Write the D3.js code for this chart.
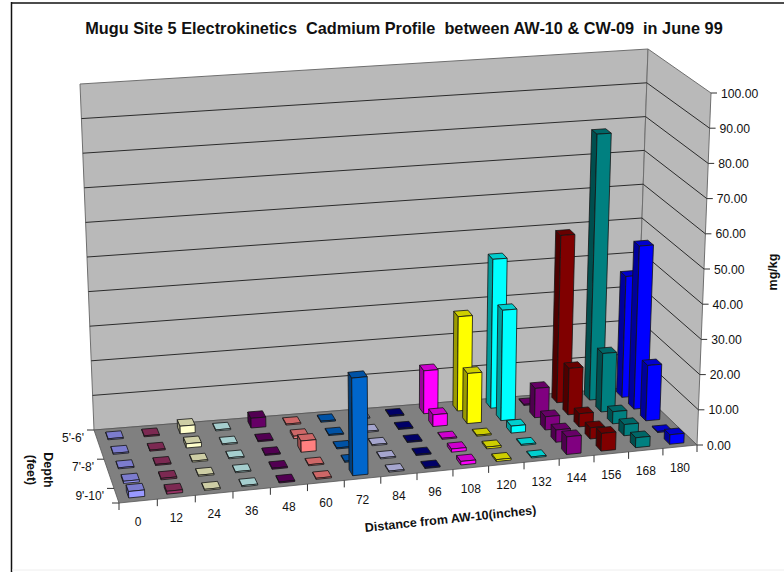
<!DOCTYPE html>
<html>
<head>
<meta charset="utf-8">
<style>
  html, body { margin: 0; padding: 0; background: #fff; overflow: hidden; }
  svg { display: block; }
  text { font-family: "Liberation Sans", Arial, sans-serif; fill: #111; white-space: pre; }
</style>
<script src="https://cdn.jsdelivr.net/npm/d3@7"></script>
</head>
<body>
<svg id="chart" width="784" height="573"></svg>
<script>
// Cadmium concentration (mg/kg) by distance from AW-10 and depth interval.
const distances = ["0","12","24","36","48","60","72","84","96","108","120","132","144","156","168","180"];
const depths = ["5'-6'","6'-7'","7'-8'","8'-9'","9'-10'"];
const depthLabels = ["5'-6'","7'-8'","9'-10'"];
const valueTicks = [0,10,20,30,40,50,60,70,80,90,100];

const depth5to6  = [0.3,0.3,2.2,0.3,2.8,0.3,0.3,0.3,0.3,12.5,27.5,43.5,0.3,49,78,35.5];
const depth6to7  = [0.3,0.3,1.2,0.3,0.3,0.7,0.3,0.3,0.3,3.4,14.5,32,8.5,13.5,17,47.5];
const depth7to8  = [0.3,0.3,0.3,0.3,0.3,3.2,0.3,0.3,0.3,0.3,0.3,2,3.8,3.8,3.5,16];
const depth8to9  = [0.6,0.4,0.3,0.3,0.3,0.3,0.3,0.3,0.3,0.9,0.5,0.3,3.5,3.2,3.2,0.3];
const depth9to10 = [1.8,0.8,0.3,0.3,0.3,0.3,27.5,0.3,0.3,1,0.5,0.3,5,5,2.8,2.7];
const seriesByDepth = [depth5to6, depth6to7, depth7to8, depth8to9, depth9to10];

const columnColors = ["#9999ff","#993366","#ffffcc","#ccffff","#660066","#ff8080","#0066cc","#ccccff",
                      "#000080","#ff00ff","#ffff00","#00ffff","#800080","#800000","#008080","#0000ff"];

// Box corners on the page: floor and ceiling, each listed back-left, back-right, front-right, front-left.
const floorQuad = [[94,430],[636,387],[697,445],[119,503]];
const topQuad   = [[80,84],[648,49],[711,93],[103,145]];

// Distances foreshorten slightly towards the right of the box.
const foreshorten = 0.0644;
const warp = u => u*(1+foreshorten)/(1+foreshorten*u);

function quadMap(q) {
  const lerp = (a,b,t) => [a[0]+(b[0]-a[0])*t, a[1]+(b[1]-a[1])*t];
  return (u,v) => {
    const w = warp(u);
    return lerp(lerp(q[0],q[1],w), lerp(q[3],q[2],w), v);
  };
}
const floorMap = quadMap(floorQuad), topMap = quadMap(topQuad);

const x = d3.scaleBand().domain(distances).range([0,1]).paddingInner(0.58).paddingOuter(0.29);
const depth = d3.scaleBand().domain(depths).range([0,1]).paddingInner(0.54).paddingOuter(0.27);
const value = d3.scaleLinear().domain([0,100]).range([0,1]);

// u runs along distance, v from the back wall to the front, z up the value axis.
function project(u,v,z) {
  const a = floorMap(u,v), b = topMap(u,v);
  return [a[0]+(b[0]-a[0])*z, a[1]+(b[1]-a[1])*z];
}
const line = d3.line();
const svg = d3.select("#chart");

// Frame: heavy top and left rules, a faint rule along the bottom
svg.append("line").attr("x1",11).attr("y1",3).attr("x2",784).attr("y2",3).attr("stroke","#111").attr("stroke-width",1.5);
svg.append("line").attr("x1",11.5).attr("y1",2).attr("x2",11.5).attr("y2",572).attr("stroke","#111").attr("stroke-width",1.5);
svg.append("line").attr("x1",12).attr("y1",570).attr("x2",784).attr("y2",570).attr("stroke","#eeeeee").attr("stroke-width",1);

// Walls and floor
const wallFill = "#b9b9b9", edge = "#6f6f6f";
const backWall = [project(0,0,0),project(1,0,0),project(1,0,1),project(0,0,1)];
const sideWall = [project(1,0,0),project(1,1,0),project(1,1,1),project(1,0,1)];
const floorFace = [project(0,0,0),project(1,0,0),project(1,1,0),project(0,1,0)];
svg.selectAll("path.wall").data([backWall,sideWall]).join("path").attr("class","wall")
  .attr("d",d => line(d)+"Z").attr("fill",wallFill).attr("stroke",edge).attr("stroke-width",1);
svg.append("path").attr("d",line(floorFace)+"Z").attr("fill","#808080").attr("stroke","#555").attr("stroke-width",0.8);

// Gridlines run across the back wall and then down the side wall
svg.selectAll("path.grid").data(valueTicks.slice(1,-1)).join("path").attr("class","grid")
  .attr("d",t => line([project(0,0,value(t)),project(1,0,value(t)),project(1,1,value(t))]))
  .attr("fill","none").attr("stroke","#2b2b2b").attr("stroke-width",1);

// Columns, painted from the back row forward
const bars = [];
depths.forEach((dName,r) => distances.forEach((c,i) => {
  bars.push({r,i,c,dName,v:seriesByDepth[r][i],color:columnColors[i]});
}));
const barGroup = svg.append("g").selectAll("g").data(bars).join("g");
barGroup.each(function(d) {
  const u0 = x(d.c), u1 = u0+x.bandwidth();
  const v0 = depth(d.dName), v1 = v0+depth.bandwidth();
  const z = value(d.v);
  const c = d3.rgb(d.color);
  const g = d3.select(this);
  const faces = [
    {pts:[project(u0,v0,0),project(u0,v1,0),project(u0,v1,z),project(u0,v0,z)], fill:c.darker(1.4)},
    {pts:[project(u0,v0,z),project(u1,v0,z),project(u1,v1,z),project(u0,v1,z)], fill:c.darker(0.6)},
    {pts:[project(u0,v1,0),project(u1,v1,0),project(u1,v1,z),project(u0,v1,z)], fill:c}
  ];
  g.selectAll("path").data(faces).join("path")
    .attr("d",f => line(f.pts)+"Z").attr("fill",f => f.fill)
    .attr("stroke","#141414").attr("stroke-width",0.8).attr("stroke-linejoin","round");
});

const axisStroke = "#333";

// Distance axis: tick marks on the front edge with a label under each column
const xTickPositions = d3.range(distances.length+1).map(i => i*x.step());
svg.selectAll("line.xtick").data(xTickPositions).join("line").attr("class","xtick")
  .each(function(u) {
    const p = project(u,1,0);
    d3.select(this).attr("x1",p[0]).attr("y1",p[1]).attr("x2",p[0]).attr("y2",p[1]+7);
  }).attr("stroke",axisStroke);
svg.selectAll("text.xlabel").data(distances).join("text").attr("class","xlabel")
  .each(function(c) {
    const p = project(x(c)+x.bandwidth()/2,1,0);
    d3.select(this).attr("x",p[0]).attr("y",p[1]+25);
  })
  .attr("text-anchor","middle").attr("font-size",12).text(c => c);

// Depth axis: every other interval is labelled
const depthTickPositions = [0,0.4,0.8,1];
svg.selectAll("line.dtick").data(depthTickPositions).join("line").attr("class","dtick")
  .each(function(v) {
    const p = project(0,v,0);
    d3.select(this).attr("x1",p[0]-7).attr("y1",p[1]).attr("x2",p[0]).attr("y2",p[1]);
  }).attr("stroke",axisStroke);
svg.selectAll("text.dlabel").data(depthLabels).join("text").attr("class","dlabel")
  .each(function(n) {
    const p = project(0,depth(n)+depth.bandwidth()/2,0);
    d3.select(this).attr("x",p[0]-12.5).attr("y",p[1]+4.5);
  })
  .attr("text-anchor","end").attr("font-size",12).text(n => n);

// Value axis on the front-right edge
svg.selectAll("line.vtick").data(valueTicks).join("line").attr("class","vtick")
  .each(function(t) {
    const p = project(1,1,value(t));
    d3.select(this).attr("x1",p[0]).attr("y1",p[1]).attr("x2",p[0]+6).attr("y2",p[1]);
  }).attr("stroke",axisStroke);
svg.selectAll("text.vlabel").data(valueTicks).join("text").attr("class","vlabel")
  .each(function(t) {
    const p = project(1,1,value(t));
    d3.select(this).attr("x",p[0]+10).attr("y",p[1]+4.5);
  })
  .attr("font-size",12.2).text(t => d3.format(".2f")(t));

// Titles
svg.append("text").attr("x",404).attr("y",34).attr("text-anchor","middle")
  .attr("font-size",16.3).attr("font-weight","bold")
  .text("Mugu Site 5 Electrokinetics  Cadmium Profile  between AW-10 & CW-09  in June 99");
svg.append("text").attr("transform","translate(451,523) rotate(-6)").attr("text-anchor","middle")
  .attr("font-size",12.5).attr("font-weight","bold").text("Distance from AW-10(inches)");
svg.append("text").attr("transform","translate(43.5,470) rotate(90)").attr("text-anchor","middle")
  .attr("font-size",12.5).attr("font-weight","bold").text("Depth");
svg.append("text").attr("transform","translate(27,470) rotate(90)").attr("text-anchor","middle")
  .attr("font-size",12.5).attr("font-weight","bold").text("(feet)");
svg.append("text").attr("transform","translate(776.5,272) rotate(-90)").attr("text-anchor","middle")
  .attr("font-size",12.5).attr("font-weight","bold").text("mg/kg");
</script>
</body>
</html>
